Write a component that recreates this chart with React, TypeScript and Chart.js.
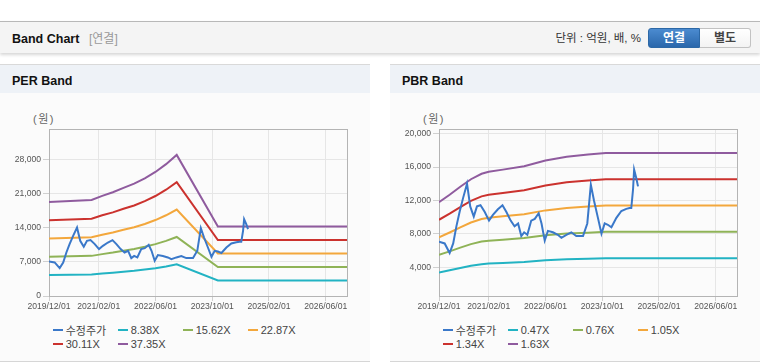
import React, { useEffect, useRef } from 'react';
import { Chart, registerables } from 'chart.js';

Chart.register(...registerables);

const FONT = "'Liberation Sans', Arial, 'Noto Sans CJK KR', sans-serif";

// x axis: months counted from 2019/12/01
const xTickMonths = [0, 14, 30, 46, 62, 78];
const xTickLabels = ['2019/12/01', '2021/02/01', '2022/06/01', '2023/10/01', '2025/02/01', '2026/06/01'];

// 수정주가 (adjusted price)
const priceMonths = [0, 1.6, 3, 4, 4.9, 5.8, 6.8, 7.9, 8.8, 9.8, 10.7, 11.7, 12.9, 14.1, 15.2, 16.6, 17.9, 19, 20.2, 21.3, 22.3, 23.2, 24, 24.9, 26, 27, 28.1, 28.9, 29.8, 30.7, 32.1, 33.5, 34.5, 35.9, 37.3, 38.7, 40.6, 41.8, 42.8, 43.7, 44.8, 45.8, 46.7, 47.6, 48.6, 50, 51.4, 52.8, 53.7, 54.2, 54.7, 55, 55.6, 56.1];
const priceValues = [7070, 6870, 5720, 6870, 8910, 10630, 12320, 14020, 11300, 10080, 11300, 11440, 10630, 9600, 10280, 10950, 11440, 10630, 9600, 8910, 9260, 7760, 8200, 7900, 9600, 9800, 10480, 9260, 7210, 8370, 8200, 7900, 7550, 7900, 8200, 7760, 7760, 9260, 13900, 11980, 9930, 8030, 9260, 9100, 8800, 9930, 10750, 11000, 11100, 11100, 13350, 15700, 14700, 13700];

// PER band
const perBandMonths = [0, 12, 15, 18, 21, 24, 27, 30, 33, 36, 47.6, 84];
const per838 = [4324, 4409, 4600, 4769, 4970, 5161, 5408, 5700, 6059, 6485, 3191, 3191];
const per1562 = [8059, 8218, 8573, 8887, 9263, 9619, 10079, 10622, 11291, 12086, 5947, 5947];
const per2287 = [11799, 12032, 12552, 13011, 13563, 14083, 14756, 15552, 16532, 17695, 8707, 8707];
const per3011 = [15535, 15842, 16527, 17132, 17857, 18543, 19429, 20477, 21767, 23299, 11464, 11464];
const per3735 = [19270, 19650, 20500, 21250, 22150, 23000, 24100, 25400, 27000, 28900, 14220, 14220];
const perLabels = ['수정주가', '8.38X', '15.62X', '22.87X', '30.11X', '37.35X'];
const perYTicks = [0, 7000, 14000, 21000, 28000];

// PBR band
const pbrBandMonths = [0, 3, 6, 9, 12, 14, 18, 24, 30, 36, 42, 47, 84];
const pbr047 = [3402, 3661, 3935, 4195, 4382, 4454, 4526, 4642, 4843, 4973, 5045, 5103, 5103];
const pbr076 = [5502, 5922, 6365, 6785, 7088, 7204, 7321, 7507, 7834, 8043, 8160, 8253, 8253];
const pbr105 = [7602, 8181, 8793, 9373, 9792, 9953, 10114, 10372, 10823, 11113, 11274, 11402, 11402];
const pbr134 = [9701, 10441, 11222, 11961, 12496, 12701, 12907, 13236, 13811, 14181, 14387, 14551, 14551];
const pbr163 = [11800, 12700, 13650, 14550, 15200, 15450, 15700, 16100, 16800, 17250, 17500, 17700, 17700];
const pbrLabels = ['수정주가', '0.47X', '0.76X', '1.05X', '1.34X', '1.63X'];
const pbrYTicks = [4000, 8000, 12000, 16000, 20000];

const seriesColors = ['#3a78c9', '#22b3c3', '#8fb357', '#f3a73c', '#cb322e', '#8f5b9e'];

const framePlugin = {
  id: 'frame',
  beforeDatasetsDraw(chart: any) {
    const { ctx, chartArea } = chart;
    ctx.save();
    ctx.strokeStyle = '#b4b4b4';
    ctx.lineWidth = 1;
    ctx.strokeRect(Math.round(chartArea.left) + 0.5, Math.round(chartArea.top) + 0.5,
      Math.round(chartArea.right - chartArea.left), Math.round(chartArea.bottom - chartArea.top));
    ctx.restore();
  },
};

type BandProps = {
  bandMonths: number[];
  bands: number[][];
  labels: string[];
  yTicks: number[];
  yMin: number;
  yMax: number;
};

function BandCanvas({ bandMonths, bands, labels, yTicks, yMin, yMax }: BandProps) {
  const ref = useRef<HTMLCanvasElement>(null);
  useEffect(() => {
    if (!ref.current) return;
    const datasets: any[] = [
      {
        label: labels[0],
        data: priceMonths.map((m, i) => ({ x: m, y: priceValues[i] })),
        borderColor: seriesColors[0],
        backgroundColor: seriesColors[0],
        borderWidth: 2,
      },
      ...bands.map((b, k) => ({
        label: labels[k + 1],
        data: bandMonths.map((m, i) => ({ x: m, y: b[i] })),
        borderColor: seriesColors[k + 1],
        backgroundColor: seriesColors[k + 1],
        borderWidth: 2,
      })),
    ];
    const chart = new Chart(ref.current, {
      type: 'line',
      data: { datasets },
      options: {
        animation: false,
        responsive: false,
        maintainAspectRatio: false,
        layout: { padding: { left: 0, right: 23, top: 35, bottom: 0 } },
        plugins: { legend: { display: false }, tooltip: { enabled: false } },
        elements: { point: { radius: 0 }, line: { tension: 0 } },
        scales: {
          x: {
            type: 'linear',
            min: 0,
            max: 84,
            afterBuildTicks: (s: any) => { s.ticks = xTickMonths.map((v) => ({ value: v })); },
            afterFit: (s: any) => { s.height = 25; },
            ticks: {
              autoSkip: false,
              maxRotation: 0,
              padding: 0,
              color: '#555',
              font: { family: FONT, size: 8.6 },
              callback: (_v: any, i: number) => xTickLabels[i] ?? '',
            },
            grid: { color: '#e6e6e6', tickLength: 5, tickColor: '#d0d0d0' },
            border: { color: '#b4b4b4' },
          },
          y: {
            type: 'linear',
            min: yMin,
            max: yMax,
            afterBuildTicks: (s: any) => { s.ticks = yTicks.map((v) => ({ value: v })); },
            afterFit: (s: any) => { s.width = 49; },
            ticks: {
              padding: 2,
              color: '#555',
              font: { family: FONT, size: 8.6 },
              callback: (v: any) => Number(v).toLocaleString('en-US'),
            },
            grid: { color: '#e6e6e6', tickLength: 6, tickColor: '#d0d0d0' },
            border: { color: '#b4b4b4' },
          },
        },
      },
      plugins: [framePlugin],
    });
    return () => chart.destroy();
  }, []);
  return (
    <canvas
      ref={ref}
      width={370}
      height={227}
      style={{ position: 'absolute', left: 0, top: 29, width: 370, height: 227 }}
    />
  );
}

function Panel({ left, title, ...rest }: BandProps & { left: number; title: string }) {
  const cols = [52.7, 117.7, 182.7, 247.7];
  return (
    <div style={{ position: 'absolute', left, top: 64, width: 370, height: 298, background: '#fbfbfb', borderTop: '1px solid #d9d9d9', borderBottom: '1px solid #d6d6d6', boxSizing: 'border-box' }}>
      <div style={{ position: 'absolute', left: 0, top: 0, width: 370, height: 28, background: '#eef2f7' }} />
      <div style={{ position: 'absolute', left: 12, top: 8, fontSize: 12.5, fontWeight: 'bold', lineHeight: '16px', color: '#111', fontFamily: FONT }}>{title}</div>
      <div style={{ position: 'absolute', left: 33, top: 46, fontSize: 11, lineHeight: '16px', color: '#666', letterSpacing: 1.5, fontFamily: FONT }}>(원)</div>
      <BandCanvas {...rest} />
      {rest.labels.map((lab, i) => {
        const row = Math.floor(i / 4);
        const col = i % 4;
        return (
          <div key={lab} style={{ position: 'absolute', left: cols[col], top: 258 + row * 13.7, height: 14, display: 'flex', alignItems: 'center', fontFamily: FONT, fontSize: 11, color: '#444', whiteSpace: 'nowrap' }}>
            <span style={{ display: 'inline-block', width: 10, height: 2, background: seriesColors[i], marginRight: 3 }} />
            <span>{lab}</span>
          </div>
        );
      })}
    </div>
  );
}

export default function App() {
  useEffect(() => {
    document.body.style.margin = '0';
  }, []);
  return (
    <div style={{ position: 'relative', width: 760, height: 364, overflow: 'hidden', background: '#fff', fontFamily: FONT }}>
      <div style={{ position: 'absolute', left: 0, top: 21, width: 760, height: 31, background: '#f4f4f4', borderTop: '1px solid #b8b8b8', boxShadow: '0 2px 3px rgba(0,0,0,0.16)' }} />
      <div style={{ position: 'absolute', left: 12, top: 31, fontSize: 12.5, fontWeight: 'bold', lineHeight: '16px', color: '#111' }}>Band Chart</div>
      <div style={{ position: 'absolute', left: 89, top: 31, fontSize: 12, lineHeight: '16px', color: '#999' }}>[연결]</div>
      <div style={{ position: 'absolute', right: 119, top: 30, fontSize: 11.5, lineHeight: '16px', color: '#333', whiteSpace: 'nowrap' }}>단위 : 억원, 배, %</div>
      <div style={{ position: 'absolute', left: 648, top: 28, width: 52, height: 20, boxSizing: 'border-box', background: 'linear-gradient(#4b8bd0, #2a67ab)', border: '1px solid #2c68a6', borderRadius: '3px 0 0 3px', color: '#fff', fontWeight: 'bold', fontSize: 12, lineHeight: '18px', textAlign: 'center' }}>연결</div>
      <div style={{ position: 'absolute', left: 700, top: 28, width: 51, height: 20, boxSizing: 'border-box', background: 'linear-gradient(#ffffff, #f3f3f3)', border: '1px solid #c2c2c2', borderLeft: 'none', borderRadius: '0 3px 3px 0', color: '#444', fontWeight: 'bold', fontSize: 12, lineHeight: '18px', textAlign: 'center' }}>별도</div>
      <Panel
        left={0}
        title="PER Band"
        bandMonths={perBandMonths}
        bands={[per838, per1562, per2287, per3011, per3735]}
        labels={perLabels}
        yTicks={perYTicks}
        yMin={0}
        yMax={34200}
      />
      <Panel
        left={390}
        title="PBR Band"
        bandMonths={pbrBandMonths}
        bands={[pbr047, pbr076, pbr105, pbr134, pbr163]}
        labels={pbrLabels}
        yTicks={pbrYTicks}
        yMin={580}
        yMax={20560}
      />
    </div>
  );
}
